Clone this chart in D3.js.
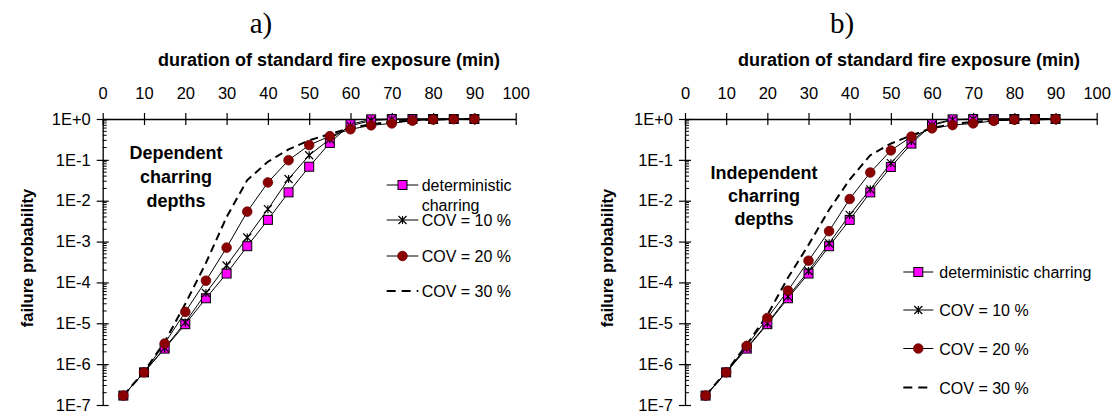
<!DOCTYPE html>
<html><head><meta charset="utf-8">
<script src="https://cdn.jsdelivr.net/npm/d3@7"></script>
<style>
body{margin:0;background:#fff;}
svg{display:block;font-family:"Liberation Sans",Arial,sans-serif;}
</style></head>
<body><svg id="c" width="1117" height="415"></svg>
<script>
const minutes = [5,10,15,20,25,30,35,40,45,50,55,60,65,70,75,80,85,90];
const xTicks = [0,10,20,30,40,50,60,70,80,90,100];
const yDecades = [1e-7,1e-6,1e-5,1e-4,1e-3,1e-2,1e-1,1];
const yTickLabels = ["1E-7","1E-6","1E-5","1E-4","1E-3","1E-2","1E-1","1E+0"];

const depDet   = [1.7e-7,6.3e-7,2.4e-6,9.5e-6,4.1e-5,1.65e-4,7.7e-4,3.4e-3,1.6e-2,0.068,0.26,0.74,0.98,1,1,1,1,1];
const depCov10 = [1.7e-7,6.3e-7,2.5e-6,1.05e-5,5.5e-5,2.6e-4,1.26e-3,6.2e-3,3.4e-2,0.13,0.32,0.68,0.92,0.98,1,1,1,1];
const depCov20 = [1.7e-7,6.3e-7,3.2e-6,1.9e-5,1.1e-4,7.1e-4,5.4e-3,2.8e-2,0.098,0.23,0.38,0.56,0.7,0.78,0.91,0.97,0.99,1];
const depCov30 = [1.7e-7,6.5e-7,3.5e-6,3e-5,3e-4,4e-3,0.032,0.09,0.18,0.3,0.43,0.6,0.75,0.85,0.93,0.97,0.99,1];

const indDet   = [1.7e-7,6.3e-7,2.4e-6,9.5e-6,4.1e-5,1.65e-4,7.7e-4,3.4e-3,1.6e-2,0.067,0.25,0.74,0.98,1,1,1,1,1];
const indCov10 = [1.7e-7,6.3e-7,2.5e-6,1.0e-5,4.5e-5,1.9e-4,9.1e-4,4.5e-3,0.019,0.083,0.29,0.7,0.95,0.99,1,1,1,1];
const indCov20 = [1.7e-7,6.3e-7,2.8e-6,1.35e-5,6.3e-5,3.4e-4,1.8e-3,0.011,0.049,0.17,0.37,0.59,0.71,0.78,0.9,0.96,0.99,1];
const indCov30 = [1.7e-7,6.5e-7,3e-6,1.6e-5,1.3e-4,8.3e-4,6e-3,0.033,0.13,0.25,0.4,0.6,0.75,0.85,0.93,0.97,0.99,1];

const panels = [
  {label:"a)", labelX:261, titleX:329, x0:102.7, x1:515.7, note:["Dependent","charring","depths"], noteX:176, noteY:159, noteDy:24,
   series:[depCov30,depDet,depCov10,depCov20],
   legend:{lx0:386.7, lx1:418.3, tx:421.7, ys:[185,220,256,291], detLabel:["deterministic","charring"]},
   ytitleX:27},
  {label:"b)", labelX:842, titleX:909, x0:685, x1:1096.7, note:["Independent","charring","depths"], noteX:764, noteY:179, noteDy:23,
   series:[indCov30,indDet,indCov10,indCov20],
   legend:{lx0:903.3, lx1:933.3, tx:939.3, ys:[272,310,348.5,387.5], detLabel:["deterministic charring"]},
   ytitleX:607}
];

const svg = d3.select("#c");
const yTop = 119, yBot = 405;

function drawMarker(g, type, cx, cy){
  if(type==="square"){
    g.append("rect").attr("x",cx-4.5).attr("y",cy-4.5).attr("width",9).attr("height",9)
      .attr("fill","#ff00ff").attr("stroke","#000").attr("stroke-width",1);
  } else if(type==="circle"){
    g.append("circle").attr("cx",cx).attr("cy",cy).attr("r",4.8)
      .attr("fill","#8b0000").attr("stroke","#6b0000").attr("stroke-width",0.8);
  } else if(type==="star"){
    const s=4;
    g.append("path").attr("d",`M${cx-s},${cy-s}L${cx+s},${cy+s}M${cx-s},${cy+s}L${cx+s},${cy-s}M${cx},${cy-s}L${cx},${cy+s}`)
      .attr("stroke","#000").attr("stroke-width",1.2).attr("fill","none");
  }
}

panels.forEach(p=>{
  const x = d3.scaleLinear().domain([0,100]).range([p.x0,p.x1]);
  const y = d3.scaleLog().domain([1e-7,1]).range([yBot,yTop]);
  const g = svg.append("g");

  g.append("text").attr("x",p.labelX).attr("y",33)
    .attr("text-anchor","middle").attr("font-family","'Liberation Serif','Times New Roman',serif")
    .attr("font-size",29).text(p.label);
  g.append("text").attr("x",p.titleX).attr("y",66).attr("text-anchor","middle")
    .attr("font-weight","bold").attr("font-size",18).text("duration of standard fire exposure (min)");

  const minors=[];
  yDecades.slice(0,-1).forEach(d=>{ for(let k=2;k<=9;k++) minors.push(d*k); });
  g.selectAll(".mn").data(minors).enter().append("line")
    .attr("x1",p.x0).attr("x2",p.x0+4).attr("y1",d=>y(d)).attr("y2",d=>y(d))
    .attr("stroke","#000").attr("stroke-width",1);

  const ya = d3.axisLeft(y).tickValues(yDecades).tickFormat((d,i)=>yTickLabels[i]).tickSize(6).tickSizeOuter(0).tickPadding(6);
  const yg = g.append("g").attr("transform",`translate(${p.x0},0)`).call(ya);
  yg.selectAll(".tick line").attr("x1",6).attr("stroke-width",1.2);
  yg.select(".domain").attr("stroke-width",1.3);
  yg.selectAll("text").attr("font-size",16.5).attr("fill","#000").attr("font-family","'Liberation Sans',Arial,sans-serif");

  const xa = d3.axisTop(x).tickValues(xTicks).tickSize(6).tickSizeOuter(0).tickPadding(14);
  const xg = g.append("g").attr("transform",`translate(0,${yTop})`).call(xa);
  xg.selectAll(".tick line").attr("y1",6).attr("stroke-width",1.2);
  xg.select(".domain").attr("stroke-width",1.3);
  xg.selectAll("text").attr("font-size",16.5).attr("fill","#000").attr("font-family","'Liberation Sans',Arial,sans-serif");

  g.append("text").attr("transform",`translate(${p.ytitleX+6},${258}) rotate(-90)`)
    .attr("text-anchor","middle").attr("font-weight","bold").attr("font-size",16.5).text("failure probability");

  p.note.forEach((t,i)=>{
    g.append("text").attr("x",p.noteX).attr("y",p.noteY+i*p.noteDy).attr("text-anchor","middle")
      .attr("font-weight","bold").attr("font-size",18).text(t);
  });

  const line = d3.line().x((d,i)=>x(minutes[i])).y(d=>y(d));
  const [c30,det,c10,c20] = p.series;
  g.append("path").datum(c30).attr("d",line).attr("fill","none").attr("stroke","#000")
    .attr("stroke-width",2).attr("stroke-dasharray","8,5");
  const sets=[[det,"square"],[c10,"star"],[c20,"circle"]];
  sets.forEach(([s])=>{
    g.append("path").datum(s).attr("d",line).attr("fill","none").attr("stroke","#000").attr("stroke-width",1);
  });
  sets.forEach(([s,type])=>{
    s.forEach((v,i)=>drawMarker(g,type,x(minutes[i]),y(v)));
  });

  const L=p.legend;
  const types=["square","star","circle","dash"];
  const labels=[L.detLabel,["COV = 10 %"],["COV = 20 %"],["COV = 30 %"]];
  types.forEach((t,i)=>{
    const ly=L.ys[i];
    if(t==="dash"){
      g.append("line").attr("x1",L.lx0).attr("x2",L.lx1).attr("y1",ly).attr("y2",ly)
        .attr("stroke","#000").attr("stroke-width",2).attr("stroke-dasharray","9,6");
    } else {
      g.append("line").attr("x1",L.lx0).attr("x2",L.lx1).attr("y1",ly).attr("y2",ly).attr("stroke","#000").attr("stroke-width",1);
      drawMarker(g,t,(L.lx0+L.lx1)/2,ly);
    }
    labels[i].forEach((txt,j)=>{
      g.append("text").attr("x",L.tx).attr("y",ly+6+j*20).attr("font-size",16).text(txt);
    });
  });
});
</script></body></html>
